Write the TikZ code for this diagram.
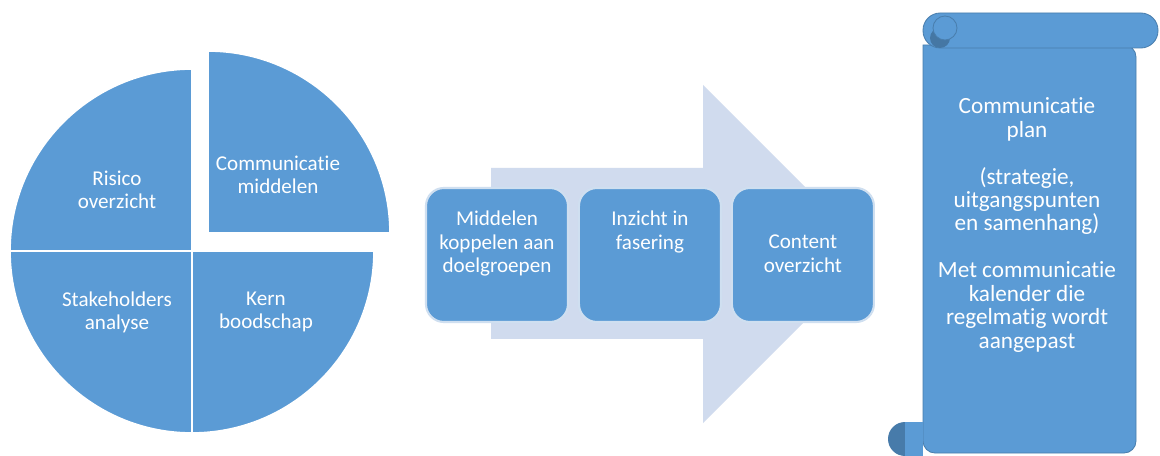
\documentclass[tikz,border=0pt]{standalone}
\usepackage{fontspec}
\setmainfont{Carlito}[Ligatures=NoCommon]
\usetikzlibrary{positioning}
\definecolor{vlak}{HTML}{5B9BD5}
\definecolor{vlakdonker}{HTML}{41719C}
\definecolor{pijl}{HTML}{D0DBEE}
\definecolor{rand}{HTML}{CFDFF0}
\tikzset{
	tekst/.style={text=white, align=center, inner sep=0pt, font=\fontsize{15pt}{16.5pt}\selectfont},
	taart/.style={fill=vlak, draw=white, line width=1.2pt},
	blok/.style={fill=vlak, draw=rand, line width=1.5pt, rounded corners=0.45cm, minimum width=3.55cm, minimum height=3.35cm},
	rol/.style={fill=vlak, draw=vlakdonker!70!vlak, line width=0.6pt}
}
\begin{document}
\begin{tikzpicture}[x=0.025cm, y=0.025cm]
	\useasboundingbox (0,0) rectangle (1160,455);
	\fill[white] (0,0) rectangle (1160,455);
	% taart
	\def\r{182}
	\coordinate (P) at (192,204);
	\coordinate (Q) at (208,222);
	\filldraw[taart] (P) -- ++(0,\r) arc[start angle=90, end angle=180, radius=\r] -- cycle;
	\filldraw[taart] (P) -- ++(-\r,0) arc[start angle=180, end angle=270, radius=\r] -- cycle;
	\filldraw[taart] (P) -- ++(0,-\r) arc[start angle=270, end angle=360, radius=\r] -- cycle;
	\filldraw[taart] (Q) -- ++(\r,0) arc[start angle=0, end angle=90, radius=\r] -- cycle;
	\node[tekst] (R) at (117,265) {Risico\\overzicht};
	\node[tekst] (M) at (278,280) {Communicatie\\middelen};
	\node[tekst] (S) at (117,143) {Stakeholders\\analyse};
	\node[tekst] (K) at (266,143) {Kern\\boodschap};
	% pijl
	\fill[pijl] (491,287) -- (703,287) -- (703,370) -- (866,207) -- (866,195) -- (703,32) -- (703,116) -- (491,116) -- cycle;
	\node[blok] (s1) at (497,200) {};
	\node[blok, right=0.22cm of s1] (s2) {};
	\node[blok, right=0.22cm of s2] (s3) {};
	\node[tekst, below=0.6cm of s1.north] {Middelen\\koppelen aan\\doelgroepen};
	\node[tekst, below=0.6cm of s2.north] {Inzicht in\\fasering};
	\node[tekst, below=1.2cm of s3.north] {Content\\overzicht};
	% rol
	\fill[rol, rounded corners=0.3cm] (923,410) -- (1136,410) -- (1136,2) -- (923,2) [sharp corners] -- cycle;
	\fill[vlakdonker!75!vlak] (905,16) circle[radius=17];
	\fill[vlak] (913,19) circle[radius=7];
	\fill[vlak] (905,-2) rectangle (923,33);
	\draw[rol, rounded corners=0.43cm] (923,407) rectangle (1158,442);
	\fill[vlakdonker!85!vlak] (940,417) circle[radius=10];
	\draw[rol] (945,427) circle[radius=12];
	\node[tekst, font=\fontsize{16.5pt}{16.7pt}\selectfont] (T) at (1027,230) {Communicatie\\plan\\[16.7pt](strategie,\\uitgangspunten\\en samenhang)\\[16.7pt]Met communicatie\\kalender die\\regelmatig wordt\\aangepast};
\end{tikzpicture}
\end{document}
